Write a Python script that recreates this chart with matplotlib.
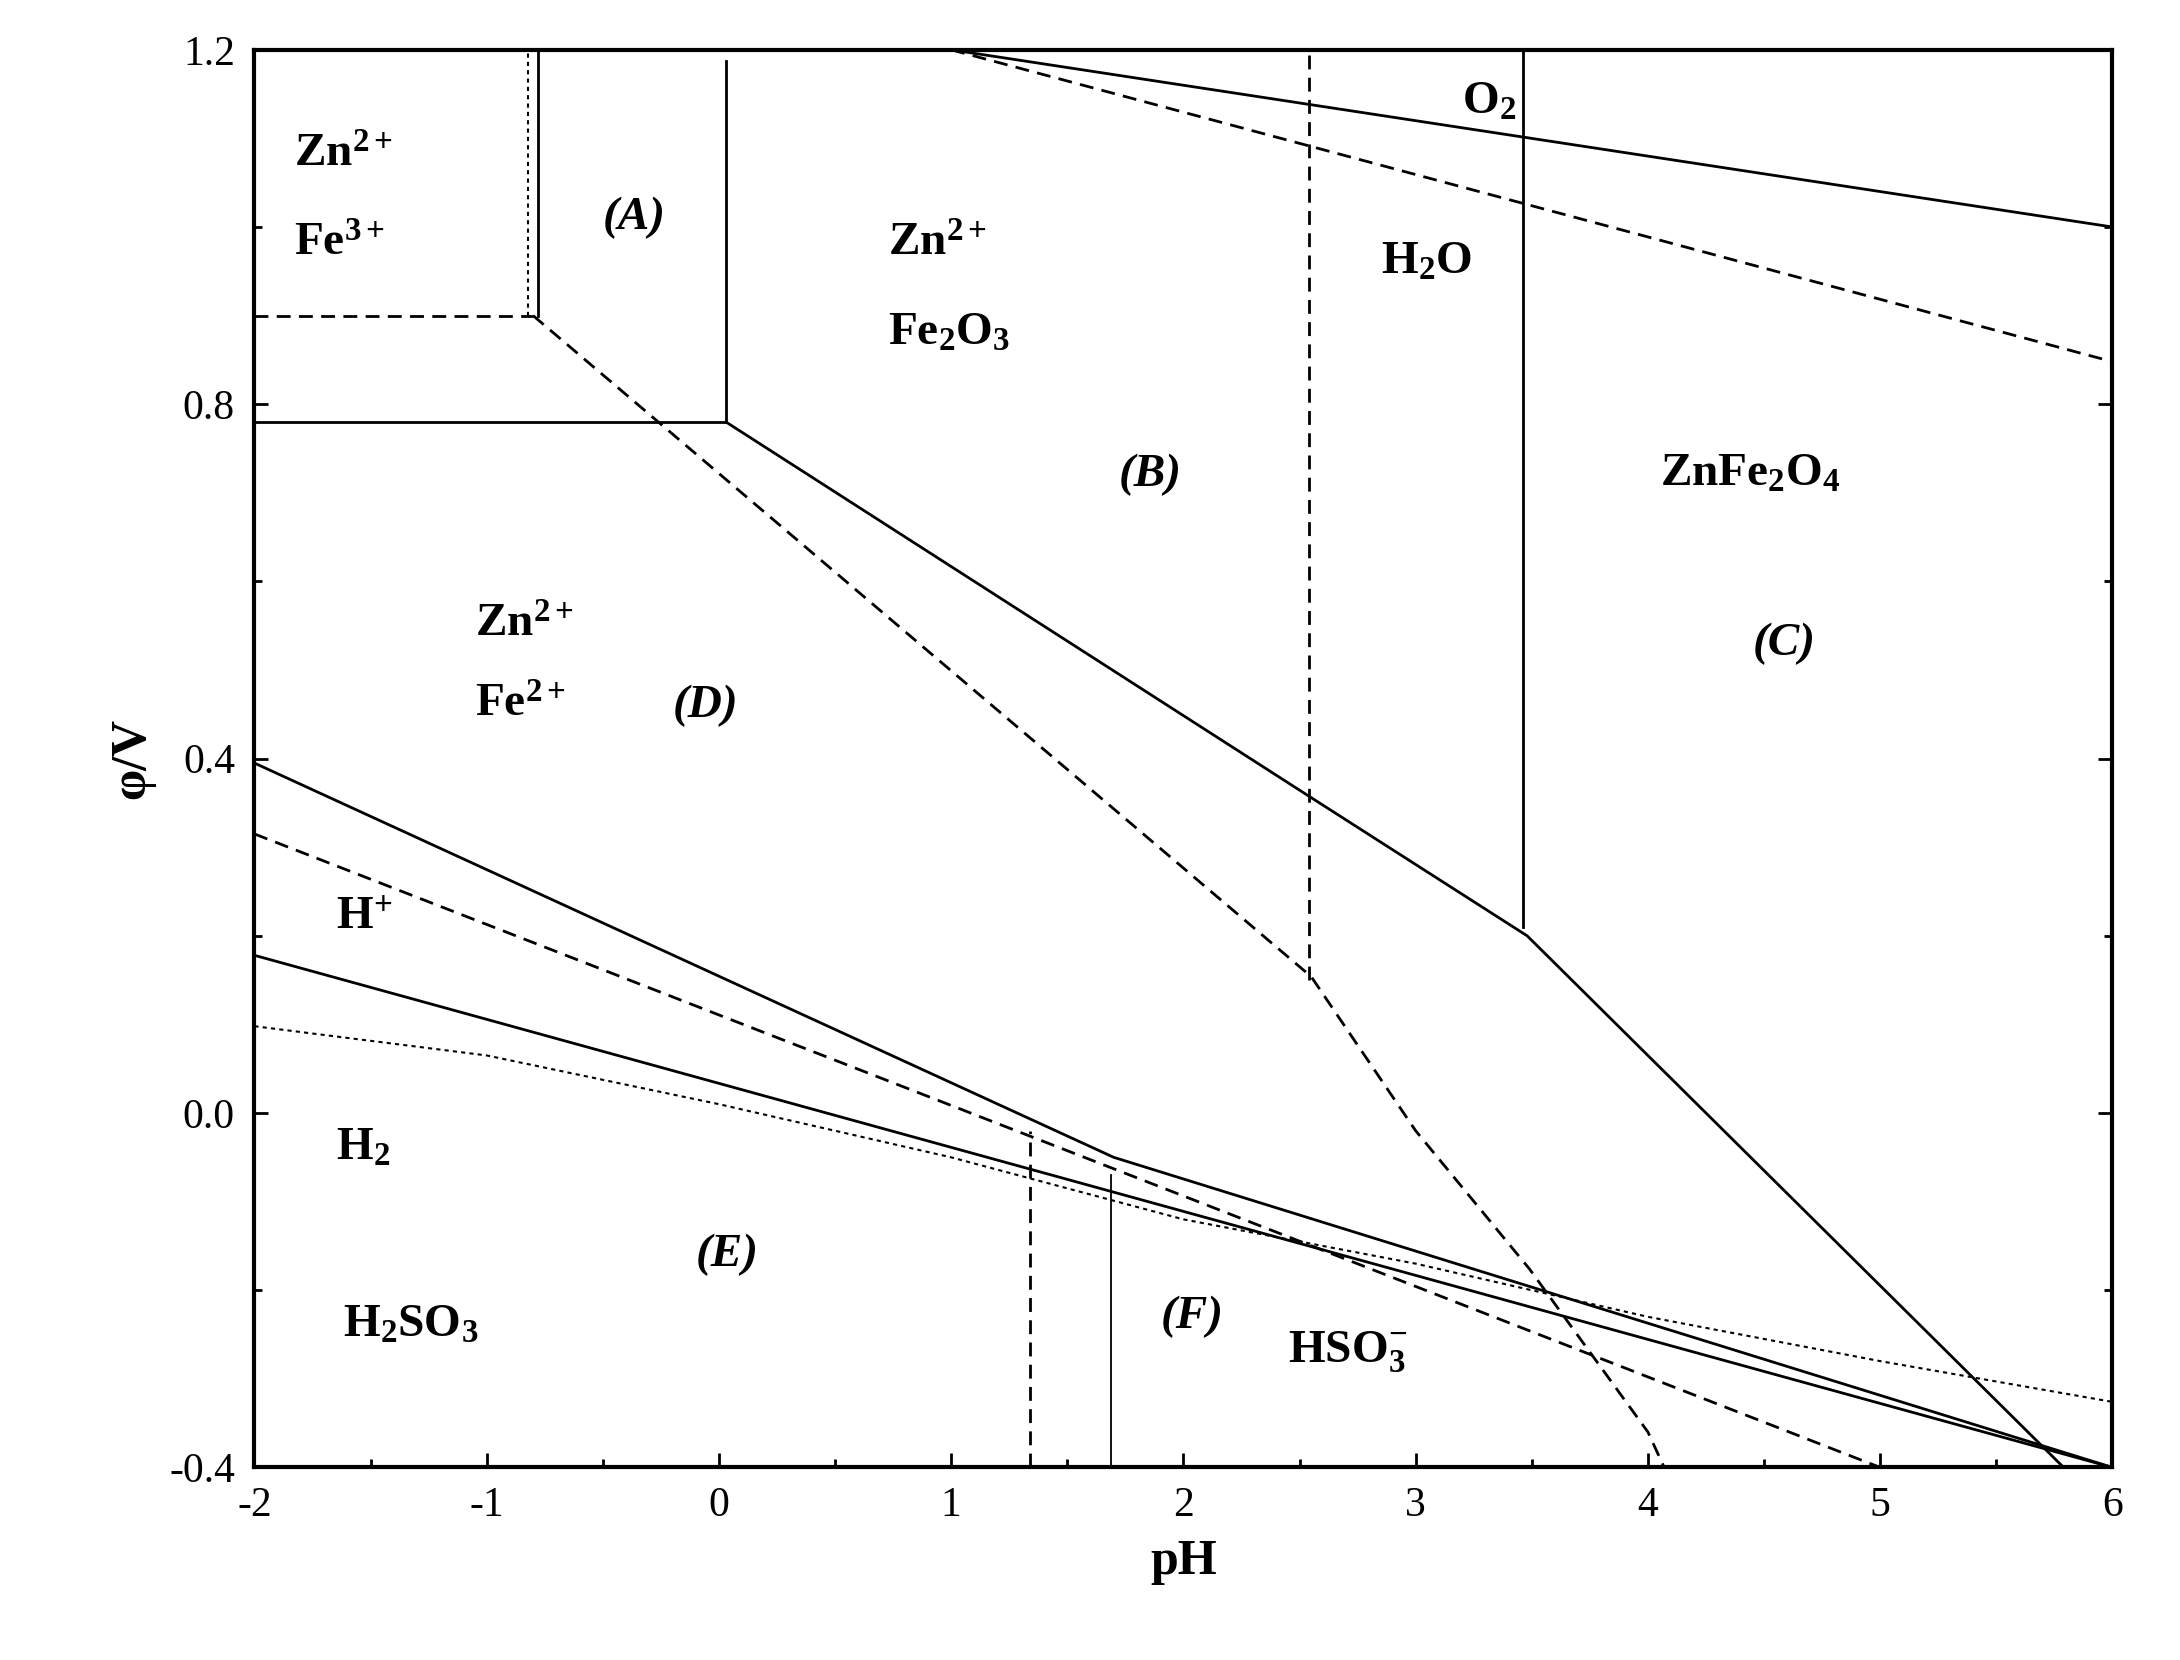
import matplotlib
matplotlib.use("Agg")
import matplotlib.pyplot as plt

plt.rcParams['font.family'] = ['Liberation Serif', 'DejaVu Serif']
plt.rcParams['axes.unicode_minus'] = False
plt.rcParams['mathtext.fontset'] = 'custom'
plt.rcParams['mathtext.rm'] = 'Liberation Serif:bold'
plt.rcParams['mathtext.it'] = 'Liberation Serif:bold:italic'
plt.rcParams['mathtext.bf'] = 'Liberation Serif:bold'

# solid boundaries (pH, phi)
fe_main_pH = [0.03, 2.55, 3.48, 5.79]
fe_main_phi = [0.78, 0.356, 0.20, -0.40]
o2_pH = [1.0, 6.0]; o2_phi = [1.2, 1.0]
o2d_pH = [1.0, 6.0]; o2d_phi = [1.2, 0.848]
h_pH = [-2, 1.7, 6.0]; h_phi = [0.395, -0.05, -0.40]
low_pH = [-2, 6.0]; low_phi = [0.178, -0.40]
hd_pH = [-2, 5.0]; hd_phi = [0.315, -0.40]
dash_pH = [-0.8, 2.55, 3.0, 3.49, 4.0, 4.07]
dash_phi = [0.90, 0.154, -0.02, -0.176, -0.36, -0.40]
dot_pH = [-2, -1, 0, 1, 2, 3, 4, 5, 6]
dot_phi = [0.098, 0.065, 0.01, -0.05, -0.12, -0.17, -0.23, -0.28, -0.326]

fig = plt.figure(figsize=(21.8, 16.6), dpi=100)
ax = fig.add_axes([0.1167, 0.116, 0.8523, 0.854])
ax.set_xlim(-2, 6); ax.set_ylim(-0.4, 1.2)
k = dict(color='black', lw=2)
kd = dict(color='black', lw=2, ls=(0, (5, 3)))
ax.plot(fe_main_pH, fe_main_phi, **k)
ax.plot([-2, 0.03], [0.78, 0.78], **k)
ax.plot([0.03, 0.03], [0.78, 1.187], **k)
ax.plot([-0.78, -0.78], [0.9, 1.2], **k)
ax.plot([-0.82, -0.82], [0.9, 1.2], color='black', lw=1.5, ls=(0, (2, 2)))
ax.plot([-2, -0.8], [0.9, 0.9], **kd)
ax.plot([3.46, 3.46], [0.21, 1.2], **k)
ax.plot(o2_pH, o2_phi, **k)
ax.plot(o2d_pH, o2d_phi, **kd)
ax.plot(dash_pH, dash_phi, **kd)
ax.plot([2.54, 2.54], [0.15, 1.2], **kd)
ax.plot(h_pH, h_phi, **k)
ax.plot(low_pH, low_phi, **k)
ax.plot(hd_pH, hd_phi, **kd)
ax.plot(dot_pH, dot_phi, color='black', lw=1.5, ls=(0, (2, 2)))
ax.plot([1.34, 1.34], [-0.4, -0.02], **kd)
ax.plot([1.69, 1.69], [-0.4, -0.07], color='black', lw=1.3)

fs = 34
def t(x, y, s, it=False):
    ax.text(x, y, s, fontsize=fs, fontweight='bold', style='italic' if it else 'normal', ha='left', va='center')
t(-1.83, 1.08, r'Zn$^{2+}$'); t(-1.83, 0.98, r'Fe$^{3+}$')
t(-0.5, 1.01, '(A)', True)
t(0.73, 0.98, r'Zn$^{2+}$'); t(0.73, 0.88, r'Fe$_2$O$_3$')
t(1.72, 0.72, '(B)', True)
t(2.85, 0.96, r'H$_2$O'); t(3.2, 1.14, r'O$_2$')
t(4.05, 0.72, r'ZnFe$_2$O$_4$'); t(4.45, 0.53, '(C)', True)
t(-1.05, 0.55, r'Zn$^{2+}$'); t(-1.05, 0.46, r'Fe$^{2+}$')
t(-0.2, 0.46, '(D)', True)
t(-1.65, 0.22, r'H$^{+}$'); t(-1.65, -0.04, r'H$_2$')
t(-0.1, -0.16, '(E)', True)
t(-1.62, -0.24, r'H$_2$SO$_3$')
t(1.9, -0.23, '(F)', True)
t(2.45, -0.27, r'HSO$_3^{-}$')

ax.set_xticks(range(-2, 7)); ax.set_xticks([x + 0.5 for x in range(-2, 6)], minor=True)
ax.set_xticklabels([str(v) for v in range(-2, 7)])
ax.set_yticks([-0.4, 0.0, 0.4, 0.8, 1.2]); ax.set_yticks([-0.2, 0.2, 0.6, 1.0], minor=True)
ax.set_yticklabels(['-0.4', '0.0', '0.4', '0.8', '1.2'])
ax.tick_params(direction='in', which='major', length=10, width=2, labelsize=30, right=True, pad=14)
ax.tick_params(direction='in', which='minor', length=6, width=2, right=True)
for s in ax.spines.values(): s.set_linewidth(3)
ax.set_xlabel('pH', fontsize=36, fontweight='bold', labelpad=10)
ax.set_ylabel('φ/V', fontsize=36, fontweight='bold', labelpad=10)
fig.savefig('out.png', dpi=100)
